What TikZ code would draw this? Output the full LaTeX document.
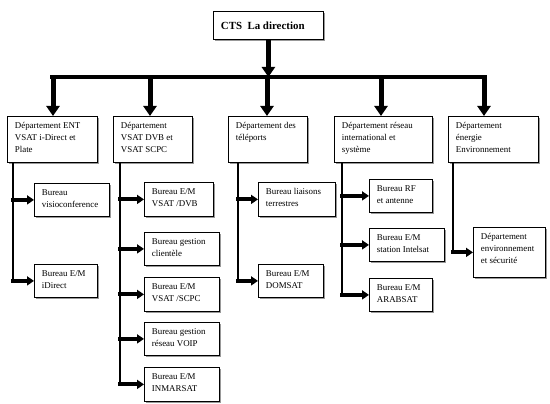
\documentclass[tikz,border=0pt]{standalone}
\usepackage{fontspec}
\setmainfont{Liberation Serif}
\usetikzlibrary{arrows.meta,shadows}
\tikzset{
  box/.style={draw=black, line width=0.8pt, fill=white, inner xsep=7.5pt, inner ysep=3.5pt,
    font=\fontsize{8.9}{12}\selectfont,
    drop shadow={shadow xshift=1.8pt, shadow yshift=-1.8pt, fill=black!40, opacity=1}},
  bigarrow/.style={line width=5pt, -{Triangle[width=13pt,length=10pt]}},
  hbar/.style={line width=3.5pt},
  trunk/.style={line width=2.6pt},
  stub/.style={line width=4pt, line cap=rect, -{Triangle[width=9pt,length=7pt]}},
}
\newcommand\bx[6]{\node[box, anchor=north west] (#1) at (#2,#3)
  {\parbox[c][\dimexpr#5pt-7pt\relax][t]{\dimexpr#4pt-15pt\relax}{\raggedright\strut #6}};}
\begin{document}
\begin{tikzpicture}[x=1pt,y=-1pt]
\useasboundingbox (0,0) rectangle (550,404);
% top
\node[box, anchor=north west, font=\fontsize{10.9}{13}\selectfont\bfseries] (top) at (213,11)
  {\parbox[c][\dimexpr28pt-7pt\relax][c]{\dimexpr110pt-15pt\relax}{\raggedright CTS\ \ La direction}};
% departments
\bx{d1}{7}{116}{90}{46}{Département ENT\\VSAT i-Direct et\\Plate}
\bx{d2}{113}{116}{79}{46}{Département\\VSAT DVB et\\VSAT SCPC}
\bx{d3}{228}{116}{79}{46}{Département des\\téléports}
\bx{d4}{334}{116}{98}{46}{Département réseau\\international et\\système}
\bx{d5}{448}{116}{90}{46}{Département\\énergie\\Environnement}
% children
\bx{c11}{34}{183}{75}{33}{Bureau\\visioconference}
\bx{c12}{34}{264}{63}{33}{Bureau E/M\\iDirect}
\bx{c21}{144}{182}{69}{34}{Bureau E/M\\VSAT /DVB}
\bx{c22}{144}{232}{75}{33}{Bureau gestion\\clientèle}
\bx{c23}{144}{277}{75}{34}{Bureau E/M\\VSAT /SCPC}
\bx{c24}{144}{322}{75}{33}{Bureau gestion\\réseau VOIP}
\bx{c25}{144}{367}{75}{34}{Bureau E/M\\INMARSAT}
\bx{c31}{258}{182}{77}{34}{Bureau liaisons\\terrestres}
\bx{c32}{258}{264}{65}{33}{Bureau E/M\\DOMSAT}
\bx{c41}{369}{179}{63}{33}{Bureau RF\\et antenne}
\bx{c42}{369}{228}{75}{33}{Bureau E/M\\station Intelsat}
\bx{c43}{369}{278}{63}{33}{Bureau E/M\\ARABSAT}
\bx{c51}{473}{227}{72}{50}{Département\\environnement\\et sécurité}
% bar coordinates
\coordinate (b1) at (53,77);
\coordinate (b2) at (150,77);
\coordinate (b3) at (267,77);
\coordinate (b4) at (381,77);
\coordinate (b5) at (484,77);
\draw[hbar] ([xshift=-3pt]b1) -- ([xshift=3pt]b5);
\draw[bigarrow] (top.south) -- (top.south |- b3);
\foreach \i in {1,...,5} {\draw[bigarrow] (b\i) -- (b\i |- d\i.north);}
% trunks
\coordinate (t1) at (13,0);
\coordinate (t2) at (120,0);
\coordinate (t3) at (238,0);
\coordinate (t4) at (342,0);
\coordinate (t5) at (453,0);
\draw[trunk] (t1 |- d1.south) -- (t1 |- c12.west);
\draw[trunk] (t2 |- d2.south) -- (t2 |- c25.west);
\draw[trunk] (t3 |- d3.south) -- (t3 |- c32.west);
\draw[trunk] (t4 |- d4.south) -- (t4 |- c43.west);
\draw[trunk] (t5 |- d5.south) -- (t5 |- c51.west);
\foreach \t/\c in {t1/c11,t1/c12,t2/c21,t2/c22,t2/c23,t2/c24,t2/c25,t3/c31,t3/c32,t4/c41,t4/c42,t4/c43,t5/c51}
  {\draw[stub] (\t |- \c.west) -- (\c.west);}
\end{tikzpicture}
\end{document}
